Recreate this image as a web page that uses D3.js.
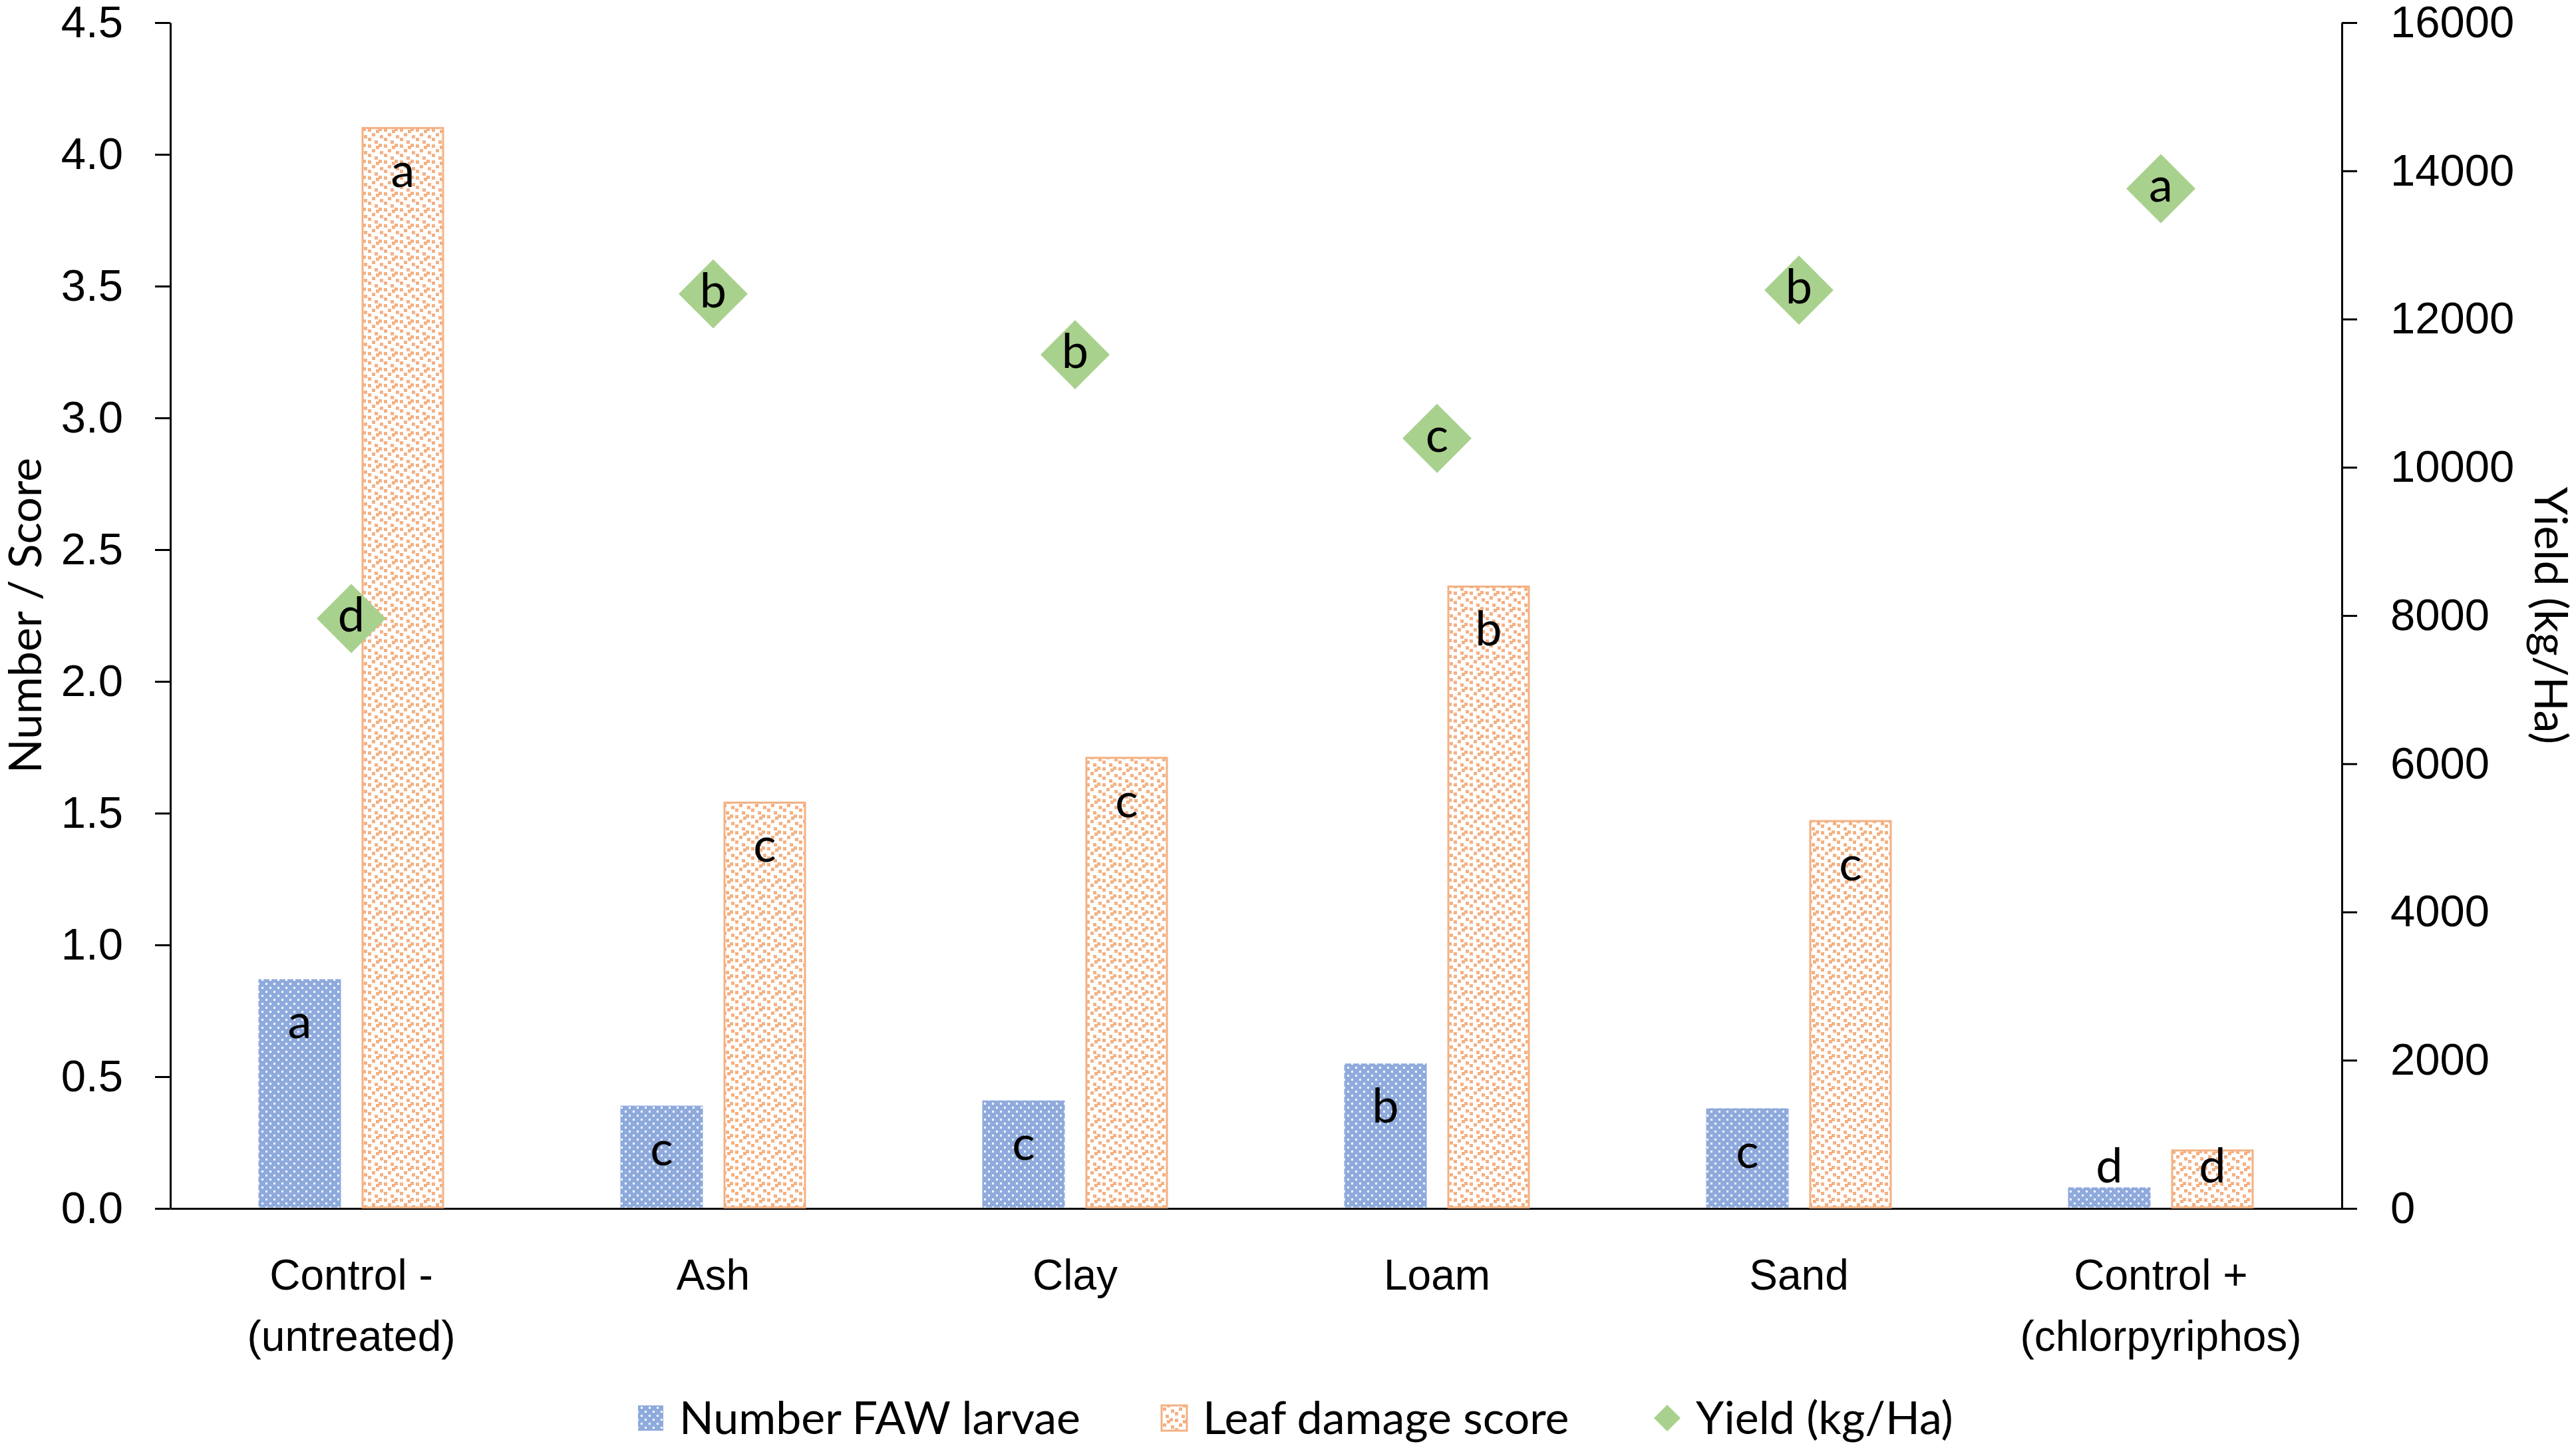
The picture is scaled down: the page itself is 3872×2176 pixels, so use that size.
<!DOCTYPE html>
<html>
<head>
<meta charset="utf-8">
<script src="https://cdn.jsdelivr.net/npm/d3@7"></script>
<style>
    html, body { margin: 0; padding: 0; background: #fff; }
    svg { display: block; font-family: Lato, "Open Sans", sans-serif; }
</style>
</head>
<body>
<div id="chart"></div>
<script>
// chart data
var categories = ["Control - (untreated)", "Ash", "Clay", "Loam", "Sand", "Control + (chlorpyriphos)"];
var larvae = [0.87, 0.39, 0.41, 0.55, 0.38, 0.08];
var larvaeLetters = ["a", "c", "c", "b", "c", "d"];
var damage = [4.10, 1.54, 1.71, 2.36, 1.47, 0.22];
var damageLetters = ["a", "c", "c", "b", "c", "d"];
var yieldKg = [7960, 12340, 11520, 10390, 12390, 13760];
var yieldLetters = ["d", "b", "b", "c", "b", "a"];
var leftTicks = [0, 0.5, 1, 1.5, 2, 2.5, 3, 3.5, 4, 4.5];
var rightTicks = [0, 2000, 4000, 6000, 8000, 10000, 12000, 14000, 16000];
var seriesNames = ["Number FAW larvae", "Leaf damage score", "Yield (kg/Ha)"];

var app = app || {};

app.ComboChart = (function () {
    'use strict';

    var colors = {
        blue: "#8FAADC",
        orange: "#F4B183",
        green: "#A9D18E"
    };

    var init = function (el) {
        var config = configure(el);
        patterns(config);
        axes(config);
        bars(config);
        points(config);
        legend(config);
        return config;
    };

    var configure = function (el) {
        var width = 3872, height = 2176;
        var svg = d3.select(el).append("svg")
            .attr("width", width)
            .attr("height", height);

        var m = { left: 256, right: 3520, top: 34, bottom: 1816 };

        var x = d3.scaleBand().domain(categories).range([m.left, m.right]);
        var x1 = d3.scaleBand().domain(["larvae", "damage"])
            .range([-139.5, 139.5]).paddingInner(0.2);
        var y = d3.scaleLinear().domain([0, 4.5]).range([m.bottom, m.top]);
        var y2 = d3.scaleLinear().domain([0, 16000]).range([m.bottom, m.top]);

        // font sizes
        var fs = { tick: 67, cat: 64, title: 68, label: 72, legend: 68 };

        return { svg: svg, m: m, x: x, x1: x1, y: y, y2: y2, fs: fs };
    };

    var patterns = function (config) {
        var defs = config.svg.append("defs");

        // blue fill with staggered white dots
        var p1 = defs.append("pattern")
            .attr("id", "dots")
            .attr("patternUnits", "userSpaceOnUse")
            .attr("width", 12).attr("height", 12);
        p1.append("rect").attr("width", 12).attr("height", 12).attr("fill", colors.blue);
        [[3, 1], [9, 7]].forEach(function (p) {
            p1.append("rect").attr("x", p[0]).attr("y", p[1])
                .attr("width", 3).attr("height", 3).attr("fill", "#fff");
        });

        // white fill with scattered orange squares
        var p2 = defs.append("pattern")
            .attr("id", "speckle")
            .attr("patternUnits", "userSpaceOnUse")
            .attr("width", 24).attr("height", 24);
        p2.append("rect").attr("width", 24).attr("height", 24).attr("fill", "#fff");
        [[1, 1], [13, 3], [7, 8], [19, 11], [1, 15], [11, 19], [17, 0]].forEach(function (p) {
            p2.append("rect").attr("x", p[0]).attr("y", p[1])
                .attr("width", 5).attr("height", 5).attr("fill", colors.orange);
        });
    };

    var axes = function (config) {
        var svg = config.svg, m = config.m;

        var left = svg.append("g")
            .attr("transform", "translate(" + m.left + ",0)")
            .call(d3.axisLeft(config.y).tickValues(leftTicks)
                .tickFormat(d3.format(".1f")).tickSize(23).tickSizeOuter(0).tickPadding(48));

        var right = svg.append("g")
            .attr("transform", "translate(" + m.right + ",0)")
            .call(d3.axisRight(config.y2).tickValues(rightTicks)
                .tickFormat(d3.format("d")).tickSize(23).tickSizeOuter(0).tickPadding(50));

        [left, right].forEach(function (g) {
            g.selectAll("path, line").attr("stroke", "#000").attr("stroke-width", 3);
            g.selectAll("text").attr("font-size", config.fs.tick).attr("font-family", null).attr("fill", "#000");
        });

        // category axis, no tick marks
        var bottom = svg.append("g")
            .attr("transform", "translate(0," + m.bottom + ")")
            .call(d3.axisBottom(config.x).tickSize(0).tickSizeOuter(0).tickFormat(""));
        bottom.select("path").attr("stroke", "#000").attr("stroke-width", 3);

        bottom.selectAll(".tick").each(function (d) {
            var parts = d.split(" (");
            var t = d3.select(this).append("text")
                .attr("fill", "#000")
                .attr("font-size", config.fs.cat)
                .attr("text-anchor", "middle");
            t.append("tspan").attr("x", 0).attr("y", 122).text(parts[0]);
            if (parts[1]) {
                t.append("tspan").attr("x", 0).attr("y", 214).text("(" + parts[1]);
            }
        });

        // axis titles
        var midY = (m.top + m.bottom) / 2;
        svg.append("text")
            .attr("transform", "translate(62," + midY + ") rotate(-90)")
            .attr("text-anchor", "middle")
            .attr("font-size", config.fs.title)
            .text("Number / Score");

        svg.append("text")
            .attr("transform", "translate(3810," + midY + ") rotate(90)")
            .attr("text-anchor", "middle")
            .attr("font-size", config.fs.title)
            .text("Yield (kg/Ha)");
    };

    var bars = function (config) {
        var svg = config.svg, x = config.x, x1 = config.x1, y = config.y;
        var bw = x1.bandwidth();
        var series = [
            { key: "larvae", values: larvae, letters: larvaeLetters, fill: "url(#dots)", stroke: "none" },
            { key: "damage", values: damage, letters: damageLetters, fill: "url(#speckle)", stroke: colors.orange }
        ];

        series.forEach(function (s) {
            var data = categories.map(function (c, i) {
                return { cat: c, v: s.values[i], l: s.letters[i] };
            });
            var g = svg.append("g");
            var cx = function (d) { return x(d.cat) + x.bandwidth() / 2 + x1(s.key); };

            g.selectAll("rect")
                .data(data)
                .enter()
                .append("rect")
                .attr("x", function (d) { return cx(d) + (s.stroke === "none" ? 0 : 1.5); })
                .attr("y", function (d) { return y(d.v); })
                .attr("width", bw - (s.stroke === "none" ? 0 : 3))
                .attr("height", function (d) { return y(0) - y(d.v) - 1.5; })
                .attr("fill", s.fill)
                .attr("stroke", s.stroke)
                .attr("stroke-width", 3);

            g.selectAll("text")
                .data(data)
                .enter()
                .append("text")
                .attr("x", function (d) { return cx(d) + bw / 2; })
                .attr("y", function (d) { return Math.min(y(d.v) + 70, y(0) - 58) + 19; })
                .attr("text-anchor", "middle")
                .attr("font-size", config.fs.label)
                .text(function (d) { return d.l; });
        });
    };

    var points = function (config) {
        var svg = config.svg, x = config.x, y2 = config.y2;
        var data = categories.map(function (c, i) {
            return { cat: c, v: yieldKg[i], l: yieldLetters[i] };
        });
        var diamond = d3.symbol().type(d3.symbolSquare).size(5400);

        var g = svg.append("g").selectAll("g")
            .data(data)
            .enter()
            .append("g")
            .attr("transform", function (d) {
                return "translate(" + (x(d.cat) + x.bandwidth() / 2) + "," + y2(d.v) + ")";
            });

        g.append("path")
            .attr("d", diamond)
            .attr("transform", "rotate(45)")
            .attr("fill", colors.green);

        g.append("text")
            .attr("y", 20)
            .attr("text-anchor", "middle")
            .attr("font-size", config.fs.label)
            .text(function (d) { return d.l; });
    };

    var legend = function (config) {
        var svg = config.svg;
        var ly = 2131;
        var items = [
            { name: seriesNames[0], x: 978, type: "rect", fill: "url(#dots)", stroke: "none" },
            { name: seriesNames[1], x: 1765, type: "rect", fill: "url(#speckle)", stroke: colors.orange },
            { name: seriesNames[2], x: 2506, type: "diamond", fill: colors.green }
        ];

        var g = svg.append("g").selectAll("g")
            .data(items)
            .enter()
            .append("g")
            .attr("transform", function (d) { return "translate(" + d.x + "," + ly + ")"; });

        g.each(function (d) {
            var sel = d3.select(this);
            if (d.type === "rect") {
                sel.append("rect")
                    .attr("x", -19).attr("y", -19)
                    .attr("width", 38).attr("height", 38)
                    .attr("fill", d.fill)
                    .attr("stroke", d.stroke)
                    .attr("stroke-width", 3);
            } else {
                sel.append("path")
                    .attr("d", d3.symbol().type(d3.symbolSquare).size(800))
                    .attr("transform", "rotate(45)")
                    .attr("fill", d.fill);
            }
            sel.append("text")
                .attr("x", 43)
                .attr("y", 24)
                .attr("font-size", config.fs.legend)
                .text(d.name);
        });
    };

    return {
        init: init
    };

}());

app.ComboChart.init("#chart");
</script>
</body>
</html>
